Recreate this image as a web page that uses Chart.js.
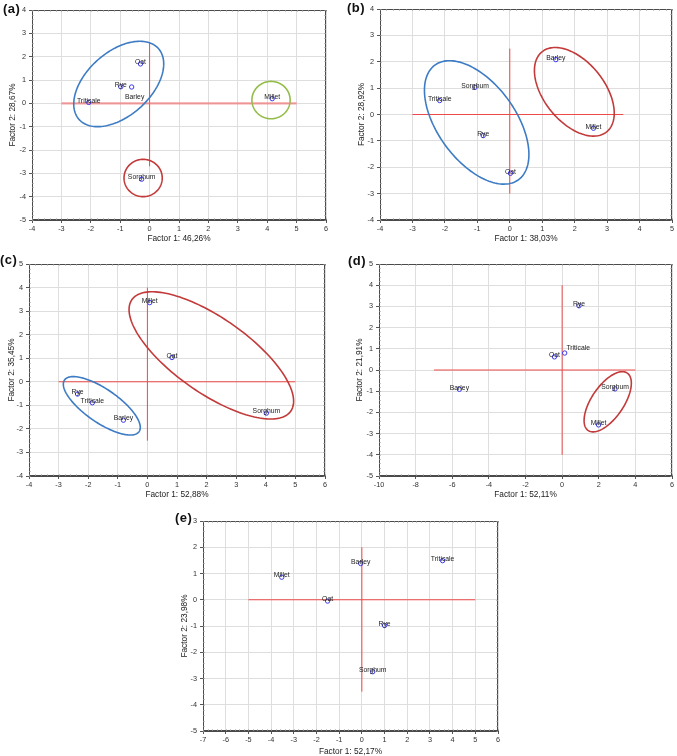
<!DOCTYPE html>
<html><head><meta charset="utf-8">
<script src="https://cdn.jsdelivr.net/npm/chart.js@4.4.1/dist/chart.umd.min.js"></script>
<style>
html,body{margin:0;padding:0;background:#fff;}
#wrap{position:relative;width:677px;height:756px;overflow:hidden;background:#fff;}
.plabel{position:absolute;font:bold 13px "Liberation Sans",Arial,sans-serif;line-height:13px;color:#111;letter-spacing:0.5px;}
</style></head><body><div id="wrap"></div>
<script>
// ---------------- data ----------------
const categories = ['Barley', 'Millet', 'Oat', 'Rye', 'Sorghum', 'Triticale'];

// panel (a)
const aFactor1 = [-0.61, 4.17, -0.31, -0.98, -0.27, -2.07];
const aFactor2 = [0.70, 0.20, 1.69, 0.71, -3.25, 0.04];
// panel (b)
const bFactor1 = [1.42, 2.58, 0.02, -0.82, -1.07, -2.16];
const bFactor2 = [2.08, -0.52, -2.23, -0.80, 1.03, 0.53];
// panel (c)
const cFactor1 = [-0.81, 0.08, 0.83, -2.36, 4.02, -1.86];
const cFactor2 = [-1.63, 3.36, 1.03, -0.52, -1.33, -0.89];
// panel (d)
const dFactor1 = [-5.61, 1.99, -0.42, 0.92, 2.89, 0.14];
const dFactor2 = [-0.91, -2.59, 0.62, 3.03, -0.89, 0.80];
// panel (e)
const eFactor1 = [-0.05, -3.53, -1.51, 1.00, 0.48, 3.56];
const eFactor2 = [1.38, 0.86, -0.05, -0.98, -2.74, 1.49];

const panelNames = ['(a)', '(b)', '(c)', '(d)', '(e)'];
const factor1Titles = ['Factor 1: 46,26%', 'Factor 1: 38,03%', 'Factor 1: 52,88%', 'Factor 1: 52,11%', 'Factor 1: 52,17%'];
const factor2Titles = ['Factor 2: 28,67%', 'Factor 2: 28,92%', 'Factor 2: 35,45%', 'Factor 2: 21,91%', 'Factor 2: 23,98%'];

// axis ranges [min, max] and tick steps
const xRanges = [[-4, 6], [-4, 5], [-4, 6], [-10, 6], [-7, 6]];
const yRanges = [[-5, 4], [-4, 4], [-4, 5], [-5, 5], [-5, 3]];
const xSteps = [1, 1, 1, 2, 1];
const ySteps = [1, 1, 1, 1, 1];

// reference lines: horizontal at Factor 2 = 0 spanning [from, to] on Factor 1,
// vertical at Factor 1 = 0 spanning [from, to] on Factor 2
const hLineSpan = [[-3, 5], [-3, 3.5], [-3, 5], [-7, 4], [-5, 5]];
const vLineSpan = [[-2.7, 2.6], [-3, 2.5], [-2.5, 4], [-4, 4], [-3.5, 2]];

// grouping ellipses in data units: [centre F1, centre F2, half-extent F1, half-extent F2, correlation]
const aGroupBlue  = [-1.05, 0.83, 1.53, 1.83, 0.47];
const aGroupGreen = [4.13, 0.14, 0.65, 0.80, 0];
const aGroupRed   = [-0.22, -3.20, 0.65, 0.80, 0];
const bGroupBlue  = [-1.02, -0.30, 1.61, 2.34, -0.52];
const bGroupRed   = [1.99, 0.86, 1.23, 1.68, -0.48];
const cGroupRed   = [2.16, 1.12, 2.78, 2.70, -0.72];
const cGroupBlue  = [-1.54, -1.02, 1.30, 1.24, -0.74];
const dGroupRed   = [2.49, -1.50, 1.29, 1.42, 0.62];

// ---------------- styling / layout ----------------
const FONT = '"Liberation Sans", Arial, Helvetica, sans-serif';
const BLUE = '#3d7cc4', RED = '#c33a3a', GREEN = '#93bd48';
const POINT = '#3a3aee';

// canvas box and plot area (canvas-relative) per panel
const layoutBoxes = [
  {l: 0,   t: 0,   w: 336, h: 250, cl: 32, ct: 10, cr: 326, cb: 220, yT: 13, xT: 239, pl: [3, 2]},
  {l: 340, t: 0,   w: 337, h: 250, cl: 40, ct: 9,  cr: 335, cb: 220, yT: 22, xT: 239, pl: [347, 1]},
  {l: 0,   t: 250, w: 336, h: 250, cl: 29, ct: 14, cr: 325, cb: 226, yT: 12, xT: 245, pl: [0, 253]},
  {l: 340, t: 250, w: 337, h: 250, cl: 39, ct: 14, cr: 334, cb: 226, yT: 20, xT: 245, pl: [348, 254]},
  {l: 160, t: 500, w: 360, h: 256, cl: 43, ct: 21, cr: 338, cb: 231, yT: 25, xT: 252, pl: [175, 511]}
];

const panels = [
  {f1: aFactor1, f2: aFactor2, ellipses: [[aGroupBlue, BLUE], [aGroupGreen, GREEN], [aGroupRed, RED]],
   hStyle: {color: 'rgba(240,110,110,0.65)', width: 2.2}, adjust: {Barley: [3, 11.5]}},
  {f1: bFactor1, f2: bFactor2, ellipses: [[bGroupBlue, BLUE], [bGroupRed, RED]], adjust: {}},
  {f1: cFactor1, f2: cFactor2, ellipses: [[cGroupRed, RED], [cGroupBlue, BLUE]], adjust: {}},
  {f1: dFactor1, f2: dFactor2, ellipses: [[dGroupRed, RED]], adjust: {Triticale: [13.5, -3.5]}},
  {f1: eFactor1, f2: eFactor2, ellipses: [], adjust: {}}
];

// ---------------- plugins ----------------
const framePlugin = {
  id: 'frame',
  afterDatasetsDraw(chart) {
    const {ctx, chartArea: a, scales: {x, y}} = chart;
    ctx.save();
    ctx.strokeStyle = '#4a4a4a';
    ctx.lineWidth = 1;
    ctx.strokeRect(Math.round(a.left) + 0.5, Math.round(a.top) + 0.5,
                   Math.round(a.right - a.left) - 1, Math.round(a.bottom - a.top) - 1);
    // minor ticks (5 per major step), inside the frame
    ctx.strokeStyle = '#8a8a8a';
    ctx.beginPath();
    const xs = x.options.ticks.stepSize / 5, ys = y.options.ticks.stepSize / 5;
    for (let v = x.min; v <= x.max + 1e-9; v += xs) {
      const p = Math.round(x.getPixelForValue(v)) + 0.5;
      ctx.moveTo(p, a.bottom); ctx.lineTo(p, a.bottom - 1.5);
      ctx.moveTo(p, a.top); ctx.lineTo(p, a.top + 1.5);
    }
    for (let v = y.min; v <= y.max + 1e-9; v += ys) {
      const p = Math.round(y.getPixelForValue(v)) + 0.5;
      ctx.moveTo(a.left, p); ctx.lineTo(a.left + 1.5, p);
      ctx.moveTo(a.right, p); ctx.lineTo(a.right - 1.5, p);
    }
    ctx.stroke();
    ctx.restore();
  }
};

const ellipsePlugin = {
  id: 'groupEllipses',
  afterDatasetsDraw(chart, args, opts) {
    const {ctx, scales: {x, y}} = chart;
    ctx.save();
    ctx.lineWidth = 1.6;
    (opts.list || []).forEach(([p, color]) => {
      const [cx, cy, rx, ry, rho] = p;
      const s = Math.sqrt(1 - rho * rho);
      ctx.strokeStyle = color;
      ctx.beginPath();
      const N = 160;
      for (let k = 0; k <= N; k++) {
        const t = 2 * Math.PI * k / N;
        const vx = cx + rx * Math.cos(t);
        const vy = cy + ry * (rho * Math.cos(t) + s * Math.sin(t));
        const px = x.getPixelForValue(vx), py = y.getPixelForValue(vy);
        if (k === 0) ctx.moveTo(px, py); else ctx.lineTo(px, py);
      }
      ctx.closePath();
      ctx.stroke();
    });
    ctx.restore();
  }
};

const labelPlugin = {
  id: 'pointNames',
  afterDraw(chart, args, opts) {
    const {ctx} = chart;
    const meta = chart.getDatasetMeta(0);
    ctx.save();
    ctx.font = '6.8px ' + FONT;
    ctx.fillStyle = '#222';
    ctx.textAlign = 'center';
    ctx.textBaseline = 'alphabetic';
    meta.data.forEach((el, i) => {
      const name = opts.labels[i];
      const adj = (opts.adjust || {})[name] || [0, 0];
      ctx.fillText(name, el.x + adj[0], el.y + 0.3 + adj[1]);
    });
    ctx.restore();
  }
};

// ---------------- build ----------------
const wrap = document.getElementById('wrap');

panels.forEach((p, i) => {
  const g = layoutBoxes[i];
  const canvas = document.createElement('canvas');
  canvas.width = g.w; canvas.height = g.h;
  canvas.style.cssText = `position:absolute;left:${g.l}px;top:${g.t}px;width:${g.w}px;height:${g.h}px;`;
  wrap.appendChild(canvas);

  const lab = document.createElement('div');
  lab.className = 'plabel';
  lab.style.left = g.pl[0] + 'px';
  lab.style.top = g.pl[1] + 'px';
  lab.textContent = panelNames[i];
  wrap.appendChild(lab);

  const titleFont = {family: FONT, size: 8.3, lineHeight: 1.2};
  const lh = 8.3 * 1.2;
  const tickFont = {family: FONT, size: 7.3};
  const hs = p.hStyle || {color: '#ee4a4a', width: 1};

  new Chart(canvas, {
    type: 'scatter',
    data: {
      datasets: [
        {
          data: p.f1.map((v, k) => ({x: v, y: p.f2[k]})),
          pointStyle: 'circle', pointRadius: 2.2, borderWidth: 1,
          borderColor: POINT, backgroundColor: 'rgba(0,0,0,0)'
        },
        {
          data: hLineSpan[i].map(v => ({x: v, y: 0})),
          showLine: true, borderColor: hs.color, borderWidth: hs.width, pointRadius: 0
        },
        {
          data: vLineSpan[i].map(v => ({x: 0, y: v})),
          showLine: true, borderColor: '#ee4a4a', borderWidth: 1, pointRadius: 0
        }
      ]
    },
    options: {
      responsive: false, animation: false, maintainAspectRatio: false,
      devicePixelRatio: 1,
      layout: {padding: {left: 0, top: g.ct, right: g.w - g.cr, bottom: 0}},
      plugins: {
        legend: {display: false}, tooltip: {enabled: false}, title: {display: false},
        groupEllipses: {list: p.ellipses},
        pointNames: {labels: categories, adjust: p.adjust}
      },
      scales: {
        x: {
          type: 'linear', position: 'bottom',
          min: xRanges[i][0], max: xRanges[i][1],
          ticks: {stepSize: xSteps[i], font: tickFont, color: '#333', padding: 2, autoSkip: false, maxRotation: 0,
                  callback: v => String(v)},
          grid: {color: '#dedede', lineWidth: 1, tickLength: 3, tickColor: '#555'},
          border: {color: '#4a4a4a'},
          title: {display: true, text: factor1Titles[i], font: titleFont, color: '#222',
                  padding: {top: 0, bottom: (g.h - g.xT) - lh / 2}},
          afterFit(s) { s.height = g.h - g.cb; }
        },
        y: {
          type: 'linear', position: 'left',
          min: yRanges[i][0], max: yRanges[i][1],
          ticks: {stepSize: ySteps[i], font: tickFont, color: '#333', padding: 3, autoSkip: false,
                  callback: v => String(v)},
          grid: {color: '#dedede', lineWidth: 1, tickLength: 3, tickColor: '#555'},
          border: {color: '#4a4a4a'},
          title: {display: true, text: factor2Titles[i], font: titleFont, color: '#222',
                  padding: {top: g.yT - lh / 2, bottom: 0}},
          afterFit(s) { s.width = g.cl; }
        }
      }
    },
    plugins: [framePlugin, ellipsePlugin, labelPlugin]
  });
});
</script>
</body></html>
